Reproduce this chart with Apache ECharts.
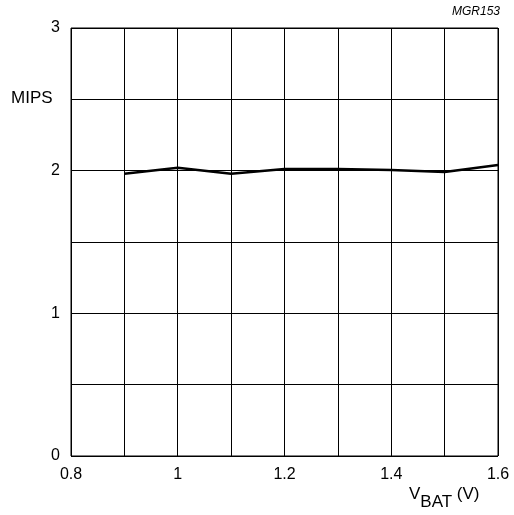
<!DOCTYPE html>
<html><head><meta charset="utf-8">
<script src="https://cdn.jsdelivr.net/npm/echarts@6/dist/echarts.min.js"></script>
<style>html,body{margin:0;padding:0;background:#fff}#c{width:514px;height:515px}</style>
</head><body><div id="c"></div>
<script>
const vbat = [0.9, 1.0, 1.1, 1.2, 1.3, 1.4, 1.5, 1.6];
const mips = [1.978, 2.02, 1.978, 2.012, 2.012, 2.005, 1.99, 2.04];
const xTickLabels = {8:'0.8',10:'1',12:'1.2',14:'1.4',16:'1.6'};
const yTickLabels = {0:'0',2:'1',4:'2',6:'3'};
const font = 'Liberation Sans, Arial, sans-serif';
const chart = echarts.init(document.getElementById('c'));
chart.setOption({
  animation:false,
  grid:{left:71,right:16,top:28,bottom:59,show:true,borderColor:'#000',borderWidth:1},
  xAxis:{type:'value',min:0.8,max:1.6,interval:0.1,
    axisLine:{show:false},axisTick:{show:false},
    splitLine:{show:true,lineStyle:{color:'#000',width:1}},
    axisLabel:{color:'#000',fontSize:16,fontFamily:font,margin:11,
      formatter:v=>{const k=Math.round(v*10);return xTickLabels[k]||'';}}},
  yAxis:{type:'value',min:0,max:3,interval:0.5,
    axisLine:{show:false},axisTick:{show:false},
    splitLine:{show:true,lineStyle:{color:'#000',width:1}},
    axisLabel:{color:'#000',fontSize:16,fontFamily:font,margin:11,
      formatter:v=>{const k=Math.round(v*2);return yTickLabels[k]||'';}}},
  series:[{type:'line',data:vbat.map((x,i)=>[x,mips[i]]),showSymbol:false,
    lineStyle:{color:'#000',width:2.5},z:5}],
  graphic:[
    {type:'text',left:11,top:90,style:{text:'MIPS',font:'17px '+font,fill:'#000'}},
    {type:'text',right:14,top:6,style:{text:'MGR153',font:'italic 12px '+font,fill:'#000'}},
    {type:'text',left:409,top:486,style:{
      text:'{v|V}{s|BAT}{v| (V)}',
      rich:{v:{fontSize:17,fontFamily:font,fill:'#000',verticalAlign:'top',padding:[0,0,8,0]},
            s:{fontSize:17,fontFamily:font,fill:'#000',verticalAlign:'bottom',padding:[8,0,0,0]}}}}
  ]
});
</script></body></html>
